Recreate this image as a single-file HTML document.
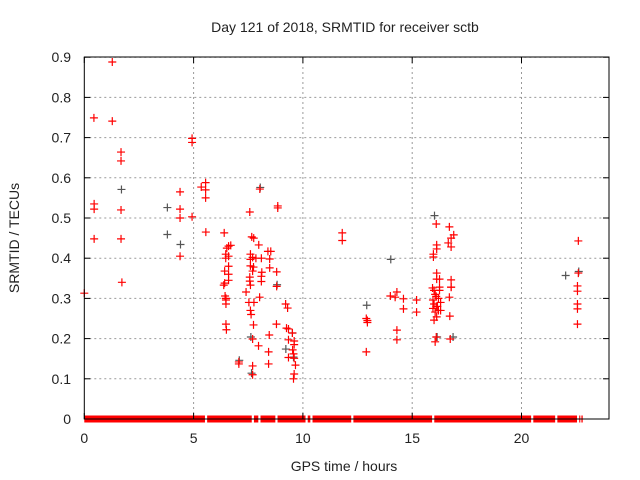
<!DOCTYPE html>
<html><head><meta charset="utf-8"><style>
html,body{margin:0;padding:0;background:#fff;width:640px;height:480px;overflow:hidden}
svg{font-family:"Liberation Sans",sans-serif}
</style></head><body>
<svg id="chart" width="640" height="480">
<g id="grid"></g>
<g id="marks"></g>
<rect x="84.3" y="57" width="524.7" height="362" fill="none" stroke="#000" stroke-width="1"/>
<g id="axes"></g>
<text x="345" y="32" text-anchor="middle" font-size="14" fill="#222">Day 121 of 2018, SRMTID for receiver sctb</text>
<text x="344" y="471" text-anchor="middle" font-size="14" fill="#222">GPS time / hours</text>
<text transform="translate(19,238) rotate(-90)" text-anchor="middle" font-size="14" fill="#222">SRMTID / TECUs</text>
</svg>
<script>
const xTicks=[0,5,10,15,20];
const yTicks=[0,0.1,0.2,0.3,0.4,0.5,0.6,0.7,0.8,0.9];
const yTickLabels=["0","0.1","0.2","0.3","0.4","0.5","0.6","0.7","0.8","0.9"];
const redX=[0,0.44,0.45,0.45,0.45,1.28,1.28,1.68,1.68,1.68,1.68,1.72,4.38,4.38,4.38,4.38,4.93,4.93,4.93,5.35,5.55,5.55,5.55,5.56,6.4,7.57,8.03,8.85,8.85,7.66,7.75,
6.6,6.52,6.7,6.47,6.47,6.6,6.6,6.6,6.6,6.42,6.42,6.38,6.44,6.48,6.48,6.48,6.5,6.48,7.07,7.07,
7.6,7.7,7.6,7.85,7.98,7.6,7.74,7.7,8.1,8.12,8.1,8.1,8.4,8.53,8.48,8.48,8.8,8.8,7.57,7.57,7.6,7.4,7.53,7.76,7.6,7.63,8.02,7.74,7.7,7.97,7.7,7.7,8.43,8.43,8.46,8.79,
9.21,9.3,9.25,9.34,9.52,9.34,9.6,9.6,9.53,9.57,9.34,9.6,9.66,9.6,9.57,
11.8,11.8,12.9,12.95,12.9,12.95,14.0,14.22,14.3,14.6,14.6,14.3,14.3,15.2,15.2,
15.97,15.97,16.12,16.12,16.12,16.12,16.25,16.25,15.93,16.0,16.05,16.1,16.2,16.3,15.95,16.0,16.1,16.2,16.3,15.95,16.05,16.15,16.25,16.0,16.12,16.1,16.05,16.1,
16.7,16.78,16.65,16.78,16.78,16.78,16.78,16.7,16.72,16.74,16.9,
22.6,22.6,22.56,22.56,22.56,22.56,22.56,22.56];
const redY=[0.313,0.749,0.535,0.522,0.448,0.888,0.741,0.664,0.642,0.52,0.448,0.34,0.565,0.522,0.5,0.405,0.698,0.688,0.503,0.577,0.588,0.57,0.55,0.465,0.463,0.515,0.572,0.53,0.525,0.453,0.45,
0.43,0.425,0.432,0.41,0.4,0.405,0.38,0.36,0.345,0.368,0.338,0.333,0.306,0.296,0.286,0.236,0.222,0.3,0.142,0.137,
0.41,0.402,0.397,0.4,0.433,0.381,0.378,0.368,0.4,0.365,0.355,0.342,0.417,0.417,0.398,0.376,0.366,0.33,0.353,0.343,0.333,0.316,0.29,0.29,0.27,0.26,0.303,0.234,0.199,0.182,0.132,0.11,0.167,0.137,0.209,0.236,
0.286,0.276,0.226,0.224,0.214,0.197,0.194,0.185,0.172,0.162,0.153,0.151,0.134,0.112,0.1,
0.463,0.444,0.25,0.245,0.167,0.24,0.306,0.303,0.316,0.299,0.274,0.221,0.197,0.296,0.266,
0.41,0.403,0.433,0.423,0.363,0.348,0.348,0.328,0.326,0.32,0.31,0.305,0.3,0.29,0.296,0.286,0.28,0.27,0.27,0.275,0.266,0.28,0.32,0.246,0.254,0.204,0.192,
0.485,0.478,0.45,0.438,0.428,0.346,0.328,0.328,0.303,0.256,0.199,
0.458,0.443,0.363,0.331,0.318,0.286,0.274,0.236];
const blackX=[1.68,3.78,3.78,4.38,8.03,7.07,14.0,16.0,22.0,12.9,22.6,9.5,9.55,16.12,16.85,8.8,7.63,7.6,9.2];
const blackY=[0.567,0.455,0.522,0.43,0.572,0.142,0.393,0.502,0.353,0.279,0.363,0.21,0.15,0.2,0.2,0.33,0.11,0.2,0.17];
const zeroStarts=[0,5.62,7.76,8.06,8.84,10.22,10.44,12.31,16.01,20.54,21.64,22.64,22.74];
const zeroEnds=[5.52,7.66,7.96,8.74,10.12,10.34,12.21,15.91,20.44,21.54,22.54,22.69,22.8];
const X=v=>84.3+v*21.86, Y=v=>419-v*402;
const NS="http://www.w3.org/2000/svg";
const grid=document.getElementById('grid'),axes=document.getElementById('axes'),marks=document.getElementById('marks');
function mk(tag,at,parent){const e=document.createElementNS(NS,tag);for(const k in at)e.setAttribute(k,at[k]);parent.appendChild(e);return e;}
xTicks.forEach(t=>{
 if(t>0){const g=mk('line',{x1:X(t),x2:X(t),y1:57,y2:419,stroke:'#999','stroke-dasharray':'2,3'},grid);
 
 }
 const a=mk('line',{x1:X(t),x2:X(t),y1:419,y2:413,stroke:'#000'},axes);
 
 
 const b=mk('line',{x1:X(t),x2:X(t),y1:57,y2:63,stroke:'#000'},axes);
 
 
 const l=mk('text',{x:X(t),y:443,'text-anchor':'middle','font-size':14,fill:'#222'},axes);l.textContent=t;
 
 
});
yTicks.forEach((t,i)=>{
 if(t>0){const g=mk('line',{x1:84.3,x2:609,y1:Y(t),y2:Y(t),stroke:'#999','stroke-dasharray':'2,3'},grid);
 
 }
 const a=mk('line',{x1:84.3,x2:90.3,y1:Y(t),y2:Y(t),stroke:'#000'},axes);
 
 
 const b=mk('line',{x1:603,x2:609,y1:Y(t),y2:Y(t),stroke:'#000'},axes);
 
 
 const l=mk('text',{x:71,y:Y(t)+5,'text-anchor':'end','font-size':14,fill:'#222'},axes);l.textContent=yTickLabels[i];
 
 
});
function plus(x,y,c,name){const p=mk('path',{d:`M${X(x)-4},${Y(y)}h8M${X(x)},${Y(y)-4}v8`,stroke:c,'stroke-width':1.2,fill:'none'},marks);
 
 }
blackX.forEach((x,i)=>plus(x+0.02,blackY[i]+0.004,'#555','point-black'));
redX.forEach((x,i)=>plus(x,redY[i],'#f00','point-red'));
zeroStarts.forEach((s,i)=>{
 const r=mk('rect',{x:X(s),y:Y(0)-3.5,width:X(zeroEnds[i])-X(s),height:7,fill:'#f00'},marks);
 
 
});
const zl=mk('line',{x1:84.3,x2:609,y1:419,y2:419,stroke:'#000'},axes);


</script>
</body></html>
